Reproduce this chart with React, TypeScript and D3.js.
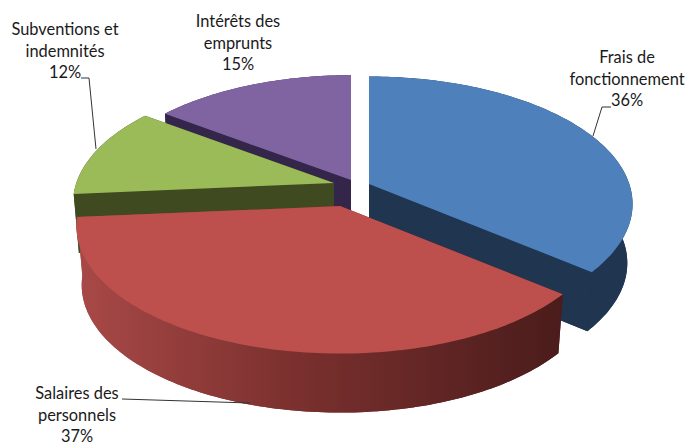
import React from "react";
import * as d3 from "d3";

const categories = ["Frais de fonctionnement", "Salaires des personnels", "Subventions et indemnités", "Intérêts des emprunts"];
const shares = [36, 37.6, 11.6, 14.8];
const percentLabels = ["36%", "37%", "12%", "15%"];

const W = 688, H = 443;
const topColors = ["#4e80bc", "#bd504d", "#9bbb59", "#8064a2"];
const sideColors = ["#1f3550", "url(#redSide)", "#3f4a20", "#33264a"];
// exploded apex of each slice and radial scale on screen
const apexX = [369, 340, 334, 351];
const apexY = [184, 206, 183, 180];
const radial = [1.005, 1.005, 0.995, 0.98];
const drawOrder = [3, 0, 2, 1];

const R = 259, SQ = 123.8, K = 0.157, DEPTH = 59, BOTTOM_X = 0.98;

const labelLines = [
  { lines: ["Frais de", "fonctionnement", "36%"], x: 627, y: 63 },
  { lines: ["Salaires des", "personnels", "37%"], x: 77, y: 399 },
  { lines: ["Subventions et", "indemnités", "12%"], x: 65, y: 35 },
  { lines: ["Intérêts des", "emprunts", "15%"], x: 238, y: 27 },
];
const leaders: [number, number][][] = [
  [[611, 107], [602, 107], [593, 136]],
  [[122, 399], [250, 403]],
  [[81, 78], [89, 78], [96, 149]],
];

type P = [number, number];

function project(theta: number, i: number, r = 1): P {
  const u = Math.sin(theta) * r, v = -Math.cos(theta) * r;
  const w = 1 / (1 - K * v);
  return [apexX[i] + R * radial[i] * u * w, apexY[i] + SQ * radial[i] * v * w];
}
const lower = (i: number) => (p: P): P => [apexX[i] + (p[0] - apexX[i]) * BOTTOM_X, p[1] + DEPTH];

const line = d3.line<P>().x(d => d[0]).y(d => d[1]);
const closed = (pts: P[]) => line(pts) + "Z";

export default function App() {
  const arcs = d3.pie<number>().sort(null).value(d => d).startAngle(0).endAngle(2 * Math.PI)(shares);
  return (
    <svg width={W} height={H} style={{ position: "absolute", left: 0, top: 0, background: "#fff" }}>
      <defs>
        <linearGradient id="redSide" gradientUnits="userSpaceOnUse" x1={77} x2={563} y1={0} y2={0}>
          <stop offset="0" stopColor="#a84947" />
          <stop offset="0.45" stopColor="#7a302e" />
          <stop offset="1" stopColor="#4a1c1b" />
        </linearGradient>
      </defs>
      {drawOrder.map(i => {
        const a = arcs[i];
        const n = Math.max(8, Math.ceil((a.endAngle - a.startAngle) / 0.02));
        const thetas = d3.range(n + 1).map(k => a.startAngle + (a.endAngle - a.startAngle) * k / n);
        const rim = thetas.map(t => project(t, i));
        const low = lower(i);
        const apex: P = [apexX[i], apexY[i]];
        const sector = [apex, ...rim];
        const walls = [
          sector.map(low),
          [...rim, ...rim.map(low).reverse()],
          [apex, rim[0], low(rim[0]), low(apex)],
          [apex, rim[n], low(rim[n]), low(apex)],
        ];
        return (
          <g key={categories[i]}>
            {walls.map((w, k) => <path key={k} d={closed(w)} fill={sideColors[i]} />)}
            <path d={closed(sector)} fill={topColors[i]} />
          </g>
        );
      })}
      {leaders.map((l, i) => (
        <path key={i} d={line(l) ?? ""} fill="none" stroke="#333" strokeWidth={1} />
      ))}
      {labelLines.map((l, i) => (
        <text key={i} fontFamily="Lato, sans-serif" fontSize={16.4} fill="#1a1a1a" textAnchor="middle">
          {l.lines.map((t, k) => (
            <tspan key={k} x={l.x} y={l.y + k * 21.7}>{t}</tspan>
          ))}
        </text>
      ))}
    </svg>
  );
}
